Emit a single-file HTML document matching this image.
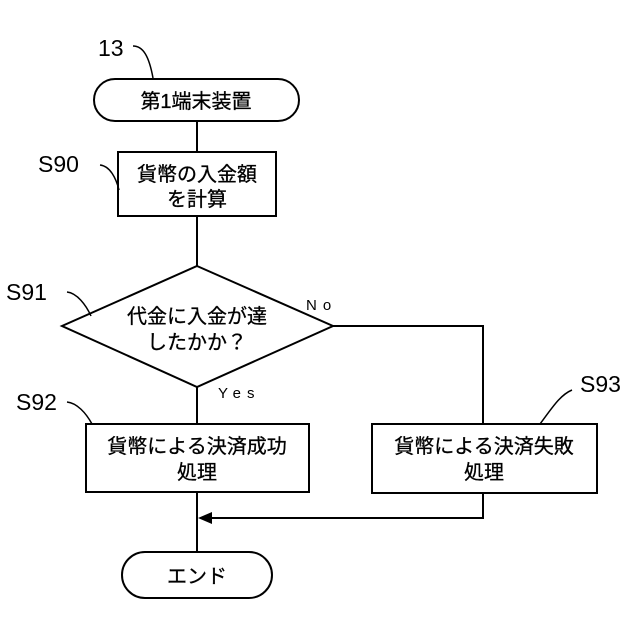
<!DOCTYPE html>
<html><head><meta charset="utf-8"><style>
html,body{margin:0;padding:0;background:#fff;}
svg{display:block;}
text{font-family:"Liberation Sans","Noto Sans CJK JP",sans-serif;fill:#000;}
.j{font-size:20px;stroke:#000;stroke-width:0.3px;}
.l{font-size:23px;}
</style></head><body>
<svg width="640" height="640" viewBox="0 0 640 640" xmlns="http://www.w3.org/2000/svg">
<g fill="none" stroke="#000" stroke-width="2">
<rect x="94" y="79" width="205" height="42" rx="21"/>
<line x1="197" y1="121" x2="197" y2="152"/>
<rect x="118" y="152" width="158" height="64"/>
<line x1="197" y1="216" x2="197" y2="266"/>
<polygon points="197,266 333,326 197,387 62,326"/>
<line x1="197" y1="387" x2="197" y2="424"/>
<polyline points="333,326 483,326 483,424"/>
<rect x="86" y="424" width="223" height="68"/>
<rect x="372" y="424" width="225" height="69"/>
<line x1="197" y1="492" x2="197" y2="552"/>
<polyline points="483,493 483,518 210,518"/>
<rect x="122" y="552" width="150" height="46" rx="23"/>
<path d="M133,46 C143,46 149,56 153,78" stroke-width="1.5"/>
<path d="M100,165 C110,166 116,178 119,190" stroke-width="1.5"/>
<path d="M67,292 C77,293 86,305 91,316" stroke-width="1.5"/>
<path d="M67,402 C77,403 86,413 92,424" stroke-width="1.5"/>
<path d="M572,390 C560,395 552,408 540,424" stroke-width="1.5"/>
</g>
<polygon points="198,518 212,512 212,524" fill="#000"/>
<text class="l" x="98" y="56">13</text>
<text class="j" x="196" y="108" text-anchor="middle">第1端末装置</text>
<text class="j" x="197" y="181" text-anchor="middle">貨幣の入金額</text>
<text class="j" x="197" y="206" text-anchor="middle">を計算</text>
<text class="l" x="38" y="172">S90</text>
<text class="l" x="6" y="300">S91</text>
<text class="j" x="197" y="323" text-anchor="middle">代金に入金が達</text>
<text class="j" x="197" y="349" text-anchor="middle">したかか？</text>
<text style="font-size:15px;letter-spacing:6px" x="306" y="310">No</text>
<text style="font-size:15px;letter-spacing:6px" x="218" y="398">Yes</text>
<text class="l" x="16" y="410">S92</text>
<text class="l" x="580" y="392">S93</text>
<text class="j" x="197" y="453" text-anchor="middle">貨幣による決済成功</text>
<text class="j" x="197" y="479" text-anchor="middle">処理</text>
<text class="j" x="484" y="453" text-anchor="middle">貨幣による決済失敗</text>
<text class="j" x="484" y="479" text-anchor="middle">処理</text>
<text class="j" x="197" y="583" text-anchor="middle">エンド</text>
</svg>
</body></html>
